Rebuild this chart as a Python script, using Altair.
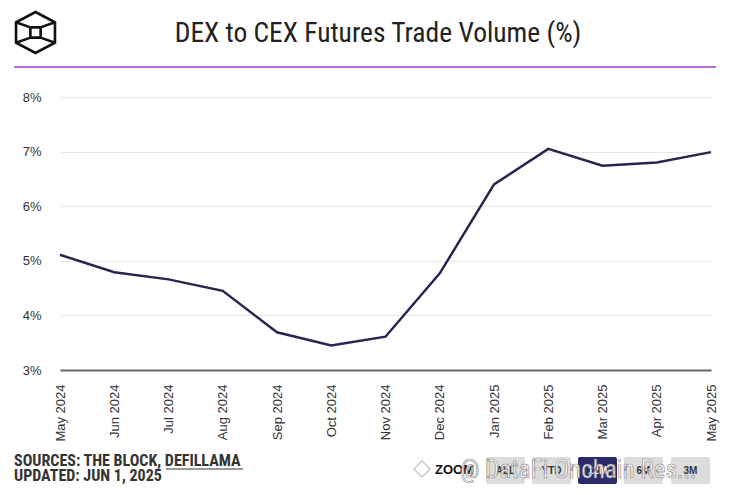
import altair as alt
import pandas as pd

months = ["May 2024", "Jun 2024", "Jul 2024", "Aug 2024", "Sep 2024", "Oct 2024",
          "Nov 2024", "Dec 2024", "Jan 2025", "Feb 2025", "Mar 2025", "Apr 2025", "May 2025"]
values = [5.11, 4.79, 4.66, 4.45, 3.69, 3.45, 3.61, 4.77, 6.40, 7.05, 6.74, 6.80, 6.99]
y_ticks = [3, 4, 5, 6, 7, 8]
title_text = "DEX to CEX Futures Trade Volume (%)"
source_line1 = "SOURCES: THE BLOCK, DEFILLAMA"
source_line2 = "UPDATED: JUN 1, 2025"
buttons = ["ALL", "YTD", "12M", "6M", "3M"]
watermark = "@ DataFi Onchain Res..."

df = pd.DataFrame({"month": months, "value": values})

W, H = 651, 273
NARROW = "Liberation Sans Narrow, Arial Narrow, Roboto Condensed, Roboto, sans-serif"
ARIAL = "Liberation Sans, Arial, sans-serif"

line = alt.Chart(df).mark_line(color="#2b2450", strokeWidth=2.5).encode(
    x=alt.X("month:N", sort=months, title=None,
            scale=alt.Scale(type="point", padding=0),
            axis=alt.Axis(labelAngle=-90, labelFont=ARIAL,
                          labelFontSize=13, labelColor="#333", labelPadding=14,
                          ticks=False, domainColor="#666", domainWidth=2, grid=False)),
    y=alt.Y("value:Q", title=None,
            scale=alt.Scale(domain=[3, 8], nice=False, zero=False),
            axis=alt.Axis(values=y_ticks, labelExpr="datum.value + '%'", domain=False,
                          ticks=False, labelFont=ARIAL,
                          labelFontSize=13, labelColor="#333", labelPadding=19,
                          gridColor="#e8e8e8", gridWidth=1)),
)

one = lambda: alt.Chart(alt.Data(values=[{"k": 1}]))

logo_path = ("M0,-1 L0.95,-0.5 L0.95,0.5 L0,1 L-0.95,0.5 L-0.95,-0.5 Z "
             "M-0.25,-0.25 L0.25,-0.25 L0.25,0.25 L-0.25,0.25 Z "
             "M-0.95,-0.5 L-0.25,-0.25 M0.95,-0.5 L0.25,-0.25 "
             "M-0.95,0.5 L-0.25,0.25 M0.95,0.5 L0.25,0.25")
logo = one().mark_point(shape=logo_path, filled=False, stroke="#111", strokeWidth=2.6,
                        size=1681, opacity=1).encode(x=alt.value(-24.5), y=alt.value(-64.5))

title = one().mark_text(font=NARROW, fontSize=27.5, color="#222", align="center",
                        baseline="middle").encode(
    x=alt.value(318), y=alt.value(-63), text=alt.value(title_text))

purple = one().mark_rule(color="#9b3ccf", strokeWidth=1.5).encode(
    x=alt.value(-46), x2=alt.value(656), y=alt.value(-30))

src1 = one().mark_text(font=NARROW, fontSize=16, fontWeight="bold", color="#333",
                       align="left", baseline="middle").encode(
    x=alt.value(-46), y=alt.value(364), text=alt.value(source_line1))
src2 = one().mark_text(font=NARROW, fontSize=16, fontWeight="bold", color="#333",
                       align="left", baseline="middle").encode(
    x=alt.value(-46), y=alt.value(379), text=alt.value(source_line2))
underline = one().mark_rule(color="#333", strokeWidth=1).encode(
    x=alt.value(106), x2=alt.value(183), y=alt.value(372))

zoom_txt = one().mark_text(font=ARIAL, fontSize=13,
                           fontWeight="bold", color="#111", align="left",
                           baseline="middle").encode(
    x=alt.value(375), y=alt.value(373), text=alt.value("ZOOM"))

layers = [line, logo, title, purple, src1, src2, underline, zoom_txt]
bx = [426, 472, 518, 564, 611]
for i, b in enumerate(buttons):
    dark = b == "12M"
    layers.append(one().mark_rect(color="#2b2a6b" if dark else "#dcdcdc",
                                  cornerRadius=2).encode(
        x=alt.value(bx[i]), x2=alt.value(bx[i] + 39),
        y=alt.value(360), y2=alt.value(387)))
    layers.append(one().mark_text(font=ARIAL, fontSize=10,
                                  fontWeight="bold", color="#fff" if dark else "#333",
                                  align="center", baseline="middle").encode(
        x=alt.value(bx[i] + 19.5), y=alt.value(373.5), text=alt.value(b)))

wm_icon = one().mark_point(shape="diamond", filled=True, fill="#ffffff", stroke="#bbb",
                           strokeWidth=1.2, size=260, opacity=0.9).encode(
    x=alt.value(362), y=alt.value(372))
wm = one().mark_text(font=NARROW, fontSize=25, color="#ffffff",
                     stroke="#888", strokeWidth=0.7, opacity=0.9, align="left",
                     baseline="middle").encode(
    x=alt.value(400), y=alt.value(373), text=alt.value(watermark))
layers += [wm_icon, wm]

chart = alt.layer(*layers).properties(
    width=W, height=H,
    background="white",
    autosize=alt.AutoSizeParams(type="none"),
    padding={"left": 52, "top": 89, "right": 13, "bottom": 117},
).configure_view(stroke=None)

chart.save("out.html", embed_options={"renderer": "svg", "actions": False})
